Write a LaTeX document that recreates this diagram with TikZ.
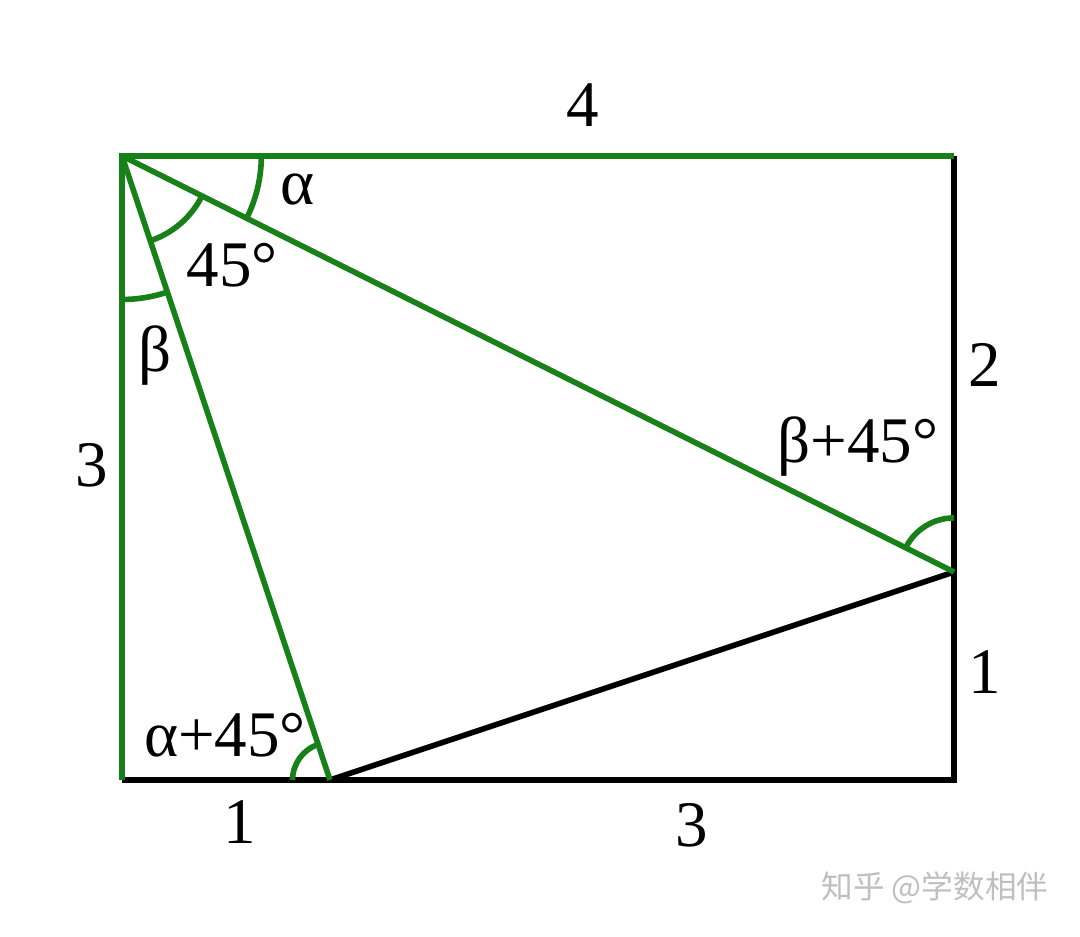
\documentclass[tikz,border=0pt]{standalone}
\usepackage{fontspec}
\setmainfont{Liberation Serif}
\newfontfamily\cjkfont{Noto Sans CJK SC}
\usepackage{xcolor}
\usepackage{tikz}
\definecolor{grn}{RGB}{24,128,24}

\begin{document}
\begin{tikzpicture}[scale=2.08, line width=1.6pt,
    edge/.style={draw=black},
    tri/.style={draw=grn},
    lbl/.style={font=\fontsize{18.5}{21}\selectfont, inner sep=0pt}]
	    \useasboundingbox (-0.5865,-0.7548) rectangle (4.606,3.75);
	    \coordinate (O) at (0,0);
	    \coordinate (A) at (0,3);
	    \coordinate (E) at (4,3);
	    \coordinate (F) at (4,0);
	    \coordinate (B) at (1,0);
	    \coordinate (C) at (4,1);
	    % black sides
	    \draw[edge] (E) -- (F) -- (O);
	    \draw[edge] (B) -- (C);
	    % green sides
	    \draw[tri] (O) -- (A) -- (E);
	    \draw[tri] (A) -- (B);
	    \draw[tri] (A) -- (C);
	    % angle marks
	    \draw[tri] (A) ++(0:0.67) arc[start angle=0, end angle=-26.57, radius=0.67];
	    \draw[tri] (A) ++(-26.57:0.43) arc[start angle=-26.57, end angle=-71.57, radius=0.43];
	    \draw[tri] (A) ++(-90:0.69) arc[start angle=-90, end angle=-71.57, radius=0.69];
	    \draw[tri] (B) ++(180:0.18) arc[start angle=180, end angle=108.43, radius=0.18];
	    \draw[tri] (C) ++(90:0.26) arc[start angle=90, end angle=153.43, radius=0.26];
	    % lengths
	    \node[lbl] (top) at (2.216,3.245) {4};
	    \node[lbl] (left) at (-0.144,1.514) {3};
	    \node[lbl] (rtop) at (4.149,1.995) {2};
	    \node[lbl] (rbot) at (4.149,0.519) {1};
	    \node[lbl] (bleft) at (0.567,-0.202) {1};
	    \node[lbl] (bright) at (2.74,-0.216) {3};
	    % angles
	    \node[lbl] (alpha) at (0.846,2.837) {α};
	    \node[lbl] (right) at (0.529,2.476) {45°};
	    \node[lbl] (beta) at (0.159,2.043) {β};
	    \node[lbl] (betaC) at (3.538,1.601) {β+45°};
	    \node[lbl] (alphaB) at (0.495,0.216) {α+45°};
	    \node[font=\cjkfont\fontsize{9}{10}\selectfont, text=black!25, inner sep=0pt] (mark) at (3.909,-0.519) {知乎 @学数相伴};
	  \end{tikzpicture}
\end{document}
